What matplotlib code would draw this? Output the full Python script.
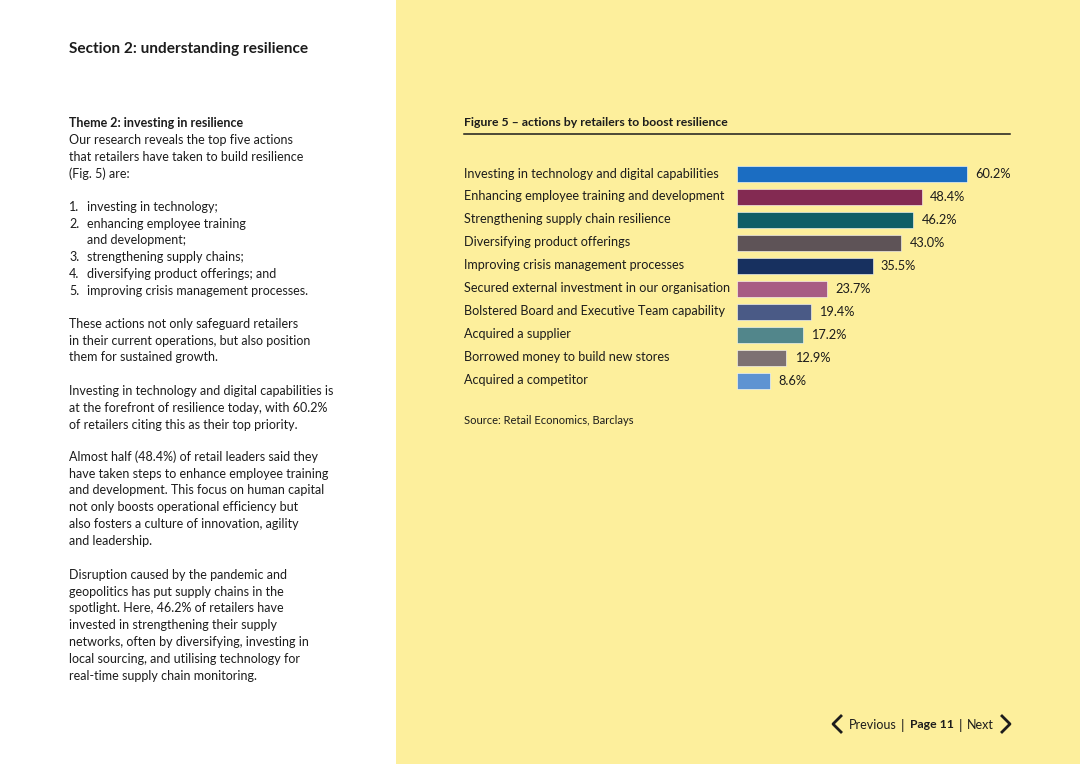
import numpy as np
import matplotlib.pyplot as plt
from matplotlib.patches import Rectangle
from matplotlib.transforms import blended_transform_factory

plt.rcParams['font.family'] = ['Lato', 'DejaVu Sans']

# data
actions = ["Investing in technology and digital capabilities",
           "Enhancing employee training and development",
           "Strengthening supply chain resilience",
           "Diversifying product offerings",
           "Improving crisis management processes",
           "Secured external investment in our organisation",
           "Bolstered Board and Executive Team capability",
           "Acquired a supplier",
           "Borrowed money to build new stores",
           "Acquired a competitor"]
shares = [60.2, 48.4, 46.2, 43.0, 35.5, 23.7, 19.4, 17.2, 12.9, 8.6]
bar_colors = ["#1B6DC2", "#832A52", "#0F5E67", "#5E5357", "#17305F",
              "#A85C84", "#4A5A86", "#52868B", "#7D7172", "#5E93D2"]

W, H = 1080, 764
ink = "#1c1c1c"
body = 9.0

def fx(x):
    return x / W

def fy(y):
    return 1 - y / H

fig = plt.figure(figsize=(W / 100, H / 100), dpi=100)
fig.patch.set_facecolor("white")
fig.patches.append(Rectangle((fx(396), 0), 1 - fx(396), 1, transform=fig.transFigure,
                             facecolor="#FDEF9C", edgecolor="none", zorder=-5))

# left column text
fig.text(fx(69), fy(49), "Section 2: understanding resilience", fontsize=11.1,
         fontweight="bold", color=ink, va="center")
fig.text(fx(69), fy(123), "Theme 2: investing in resilience", fontsize=body,
         fontweight="bold", color=ink, va="center")

step = 16.75
blocks = [
    (140, ["Our research reveals the top five actions",
           "that retailers have taken to build resilience",
           "(Fig. 5) are:"]),
    (324, ["These actions not only safeguard retailers",
           "in their current operations, but also position",
           "them for sustained growth."]),
    (391, ["Investing in technology and digital capabilities is",
           "at the forefront of resilience today, with 60.2%",
           "of retailers citing this as their top priority."]),
    (457, ["Almost half (48.4%) of retail leaders said they",
           "have taken steps to enhance employee training",
           "and development. This focus on human capital",
           "not only boosts operational efficiency but",
           "also fosters a culture of innovation, agility",
           "and leadership."]),
    (575, ["Disruption caused by the pandemic and",
           "geopolitics has put supply chains in the",
           "spotlight. Here, 46.2% of retailers have",
           "invested in strengthening their supply",
           "networks, often by diversifying, investing in",
           "local sourcing, and utilising technology for",
           "real-time supply chain monitoring."]),
]
for y0, lines in blocks:
    for i, line in enumerate(lines):
        fig.text(fx(69), fy(y0 + i * step), line, fontsize=body, color=ink, va="center")

bullets = [("1.", "investing in technology;"),
           ("2.", "enhancing employee training"),
           ("", "and development;"),
           ("3.", "strengthening supply chains;"),
           ("4.", "diversifying product offerings; and"),
           ("5.", "improving crisis management processes.")]
for i, (num, line) in enumerate(bullets):
    y = fy(207 + i * step)
    fig.text(fx(69), y, num, fontsize=body, color=ink, va="center")
    fig.text(fx(87), y, line, fontsize=body, color=ink, va="center")

# chart
fig.text(fx(464), fy(123), "Figure 5 \u2013 actions by retailers to boost resilience",
         fontsize=8.8, fontweight="bold", color=ink, va="center")
fig.add_artist(plt.Line2D([fx(464), fx(1010)], [fy(134), fy(134)],
                          color=ink, lw=1.1, transform=fig.transFigure))

ax = fig.add_axes([fx(737), fy(392), fx(1010) - fx(737), (392 - 163) / H])
ax.patch.set_alpha(0)
ypos = np.arange(len(actions))
ax.barh(ypos, shares, height=0.7, color=bar_colors, edgecolor="white", linewidth=0.4)
ax.set_xlim(0, 71.5)
ax.set_ylim(len(actions) - 0.5, -0.5)
ax.axis("off")

for yv, v in zip(ypos, shares):
    ax.annotate(f"{v:.1f}%", (v, yv), xytext=(6, 0), textcoords="offset points",
                ha="left", va="center", fontsize=9.2, color=ink)

trans = blended_transform_factory(fig.transFigure, ax.transData)
for yv, name in zip(ypos, actions):
    ax.text(fx(464), yv - 0.04, name, transform=trans, ha="left", va="center",
            fontsize=9.05, color=ink, clip_on=False)

fig.text(fx(464), fy(420), "Source: Retail Economics, Barclays", fontsize=8.0,
         color=ink, va="center")

# footer navigation
fig.add_artist(plt.Line2D([fx(841), fx(833), fx(841)], [fy(716), fy(724), fy(732)],
                          color=ink, lw=2, transform=fig.transFigure))
fig.add_artist(plt.Line2D([fx(1002), fx(1010), fx(1002)], [fy(716), fy(724), fy(732)],
                          color=ink, lw=2, transform=fig.transFigure))
fig.text(fx(849), fy(725), "Previous", fontsize=9, color=ink, va="center")
fig.text(fx(902), fy(725), "|", fontsize=10, color=ink, va="center", ha="center")
fig.text(fx(910), fy(725), "Page 11", fontsize=8.8, fontweight="bold", color=ink, va="center")
fig.text(fx(960), fy(725), "|", fontsize=10, color=ink, va="center", ha="center")
fig.text(fx(967), fy(725), "Next", fontsize=9, color=ink, va="center")

fig.savefig("out.png", dpi=100)
